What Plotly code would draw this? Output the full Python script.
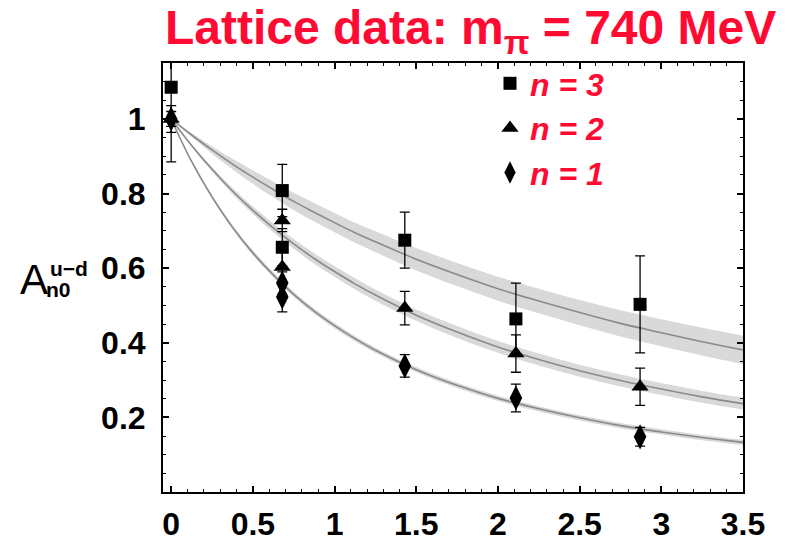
import plotly.graph_objects as go

# ---------------- data ----------------
x_n3 = [0, 0.68, 0.68, 1.43, 2.11, 2.87]
y_n3 = [1.085, 0.808, 0.656, 0.675, 0.464, 0.503]
e_n3 = [0.20, 0.07, 0.05, 0.075, 0.096, 0.13]

x_n2 = [0, 0.68, 0.68, 1.43, 2.11, 2.87]
y_n2 = [1.0, 0.728, 0.603, 0.493, 0.371, 0.282]
e_n2 = [0.036, 0.03, 0.04, 0.045, 0.05, 0.05]

x_n1 = [0, 0.68, 0.68, 1.43, 2.11, 2.87]
y_n1 = [1.0, 0.56, 0.523, 0.338, 0.252, 0.148]
e_n1 = [0.02, 0.03, 0.04, 0.03, 0.037, 0.025]

fit_x = [0, 0.125, 0.25, 0.375, 0.5, 0.625, 0.75, 0.875, 1.0, 1.125, 1.25, 1.5, 1.75,
         2.0, 2.25, 2.5, 2.75, 3.0, 3.25, 3.5]
fit_n3 = [1, 0.957, 0.917, 0.879, 0.844, 0.811, 0.779, 0.750, 0.722, 0.695, 0.671, 0.624, 0.583,
          0.545, 0.512, 0.481, 0.452, 0.427, 0.403, 0.381]
band_n3 = [0, 0.005, 0.010, 0.014, 0.018, 0.021, 0.023, 0.025, 0.026, 0.027, 0.028, 0.030, 0.031,
           0.032, 0.033, 0.034, 0.035, 0.036, 0.037, 0.038]
fit_n2 = [1, 0.929, 0.865, 0.807, 0.755, 0.708, 0.665, 0.626, 0.591, 0.558, 0.528, 0.474, 0.429,
          0.389, 0.355, 0.325, 0.299, 0.276, 0.255, 0.237]
band_n2 = [0, 0.003, 0.006, 0.008, 0.010, 0.012, 0.013, 0.014, 0.014, 0.015, 0.015, 0.015, 0.016,
           0.016, 0.016, 0.016, 0.016, 0.016, 0.016, 0.016]
fit_n1 = [1, 0.886, 0.791, 0.710, 0.641, 0.582, 0.530, 0.485, 0.446, 0.411, 0.380, 0.328, 0.286,
          0.251, 0.223, 0.199, 0.178, 0.161, 0.146, 0.133]
band_n1 = [0, 0.003, 0.005, 0.006, 0.007, 0.007, 0.007, 0.007, 0.007, 0.007, 0.007, 0.007, 0.007,
           0.007, 0.007, 0.007, 0.007, 0.007, 0.007, 0.007]

x_ticks = [0, 0.5, 1, 1.5, 2, 2.5, 3, 3.5]
x_ticklabels = ["0", "0.5", "1", "1.5", "2", "2.5", "3", "3.5"]
y_ticks = [0.2, 0.4, 0.6, 0.8, 1.0]
y_ticklabels = ["0.2", "0.4", "0.6", "0.8", "1"]

series = [
    ("<b><i>n = 3</i></b>", x_n3, y_n3, e_n3, "square", 13),
    ("<b><i>n = 2</i></b>", x_n2, y_n2, e_n2, "triangle-up", 15),
    ("<b><i>n = 1</i></b>", x_n1, y_n1, e_n1, "diamond-tall", 18),
]
fits = [(fit_n3, band_n3), (fit_n2, band_n2), (fit_n1, band_n1)]

RED = "#FF0A33"
FONT = "Liberation Sans, Arial, sans-serif"

fig = go.Figure()

# bands and fit lines
for c, b in fits:
    lo = [ci - bi for ci, bi in zip(c, b)]
    hi = [ci + bi for ci, bi in zip(c, b)]
    fig.add_trace(go.Scatter(x=fit_x, y=lo, mode="lines", line=dict(width=0, color="#d9d9d9", shape="spline"),
                             showlegend=False, hoverinfo="skip"))
    fig.add_trace(go.Scatter(x=fit_x, y=hi, mode="lines", line=dict(width=0, color="#d9d9d9", shape="spline"),
                             fill="tonexty", fillcolor="#d9d9d9", showlegend=False, hoverinfo="skip"))
    fig.add_trace(go.Scatter(x=fit_x, y=c, mode="lines", line=dict(width=1.6, color="#8a8a8a", shape="spline"),
                             showlegend=False, hoverinfo="skip"))

# data points
for name, xs, ys, es, sym, sz in series:
    fig.add_trace(go.Scatter(
        x=xs, y=ys, mode="markers", name=name,
        marker=dict(symbol=sym, size=sz, color="black"),
        error_y=dict(type="data", array=es, visible=True, color="black", thickness=1.3, width=5),
    ))

L, R, T, B = 163, 42, 63, 55
W, H = 785, 547
pw, ph = W - L - R, H - T - B

def px(xp):
    return (xp - L) / pw

def py(yp):
    return (H - B - yp) / ph

axis_common = dict(
    ticks="inside", ticklen=6, tickwidth=1.5, tickcolor="black",
    showline=True, linecolor="black", linewidth=2, mirror="allticks",
    showgrid=False, zeroline=False, automargin=False,
    tickfont=dict(family=FONT, size=32, color="black", weight="bold"),
)

fig.update_layout(
    width=W, height=H,
    margin=dict(l=L, r=R, t=T, b=B),
    paper_bgcolor="white", plot_bgcolor="white",
    showlegend=True,
    legend=dict(x=px(490), y=py(56), xanchor="left", yanchor="top", traceorder="normal",
                font=dict(family=FONT, size=32, color=RED),
                bgcolor="rgba(0,0,0,0)", itemsizing="trace", tracegroupgap=0),
    xaxis=dict(range=[-0.05, 3.5], tickmode="array", tickvals=x_ticks, ticktext=x_ticklabels,
               minor=dict(tick0=0, dtick=0.1, ticks="inside", ticklen=3, tickwidth=1.2, tickcolor="black"),
               ticklabelstandoff=3, **axis_common),
    yaxis=dict(range=[0, 1.15], tickmode="array", tickvals=y_ticks, ticktext=y_ticklabels,
               minor=dict(tick0=0, dtick=0.05, ticks="inside", ticklen=3, tickwidth=1.2, tickcolor="black"),
               ticklabelstandoff=9, **axis_common),
)

# title
fig.add_annotation(text="<b>Lattice data: m<sub>π</sub> = 740 MeV</b>", xref="paper", yref="paper",
                   x=px(470), y=py(31), xanchor="center", yanchor="middle", showarrow=False,
                   font=dict(family=FONT, size=48, color=RED))

# y-axis label A^{u-d}_{n0}
fig.add_annotation(text="A", xref="paper", yref="paper", x=px(34), y=py(279),
                   xanchor="center", yanchor="middle", showarrow=False,
                   font=dict(family=FONT, size=42, color="black"))
fig.add_annotation(text="<b>u−d</b>", xref="paper", yref="paper", x=px(48), y=py(268),
                   xanchor="left", yanchor="middle", showarrow=False,
                   font=dict(family=FONT, size=21, color="black"))
fig.add_annotation(text="<b>n0</b>", xref="paper", yref="paper", x=px(44), y=py(289),
                   xanchor="left", yanchor="middle", showarrow=False,
                   font=dict(family=FONT, size=21, color="black"))

fig.write_html("out.html", config={"displayModeBar": False},
               post_script="document.body.style.margin='0px';")
